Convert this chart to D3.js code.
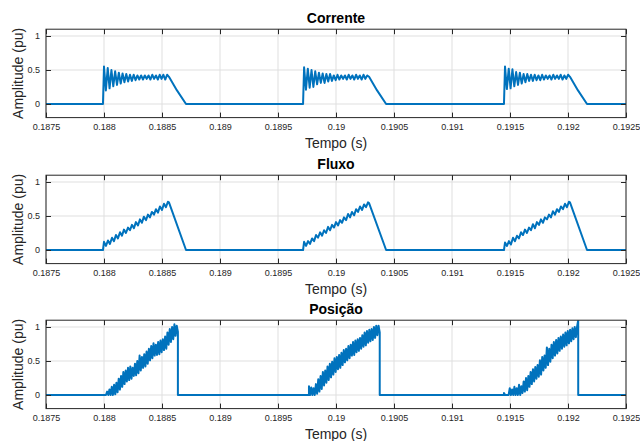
<!DOCTYPE html>
<html>
<head>
<meta charset="utf-8">
<script src="https://cdn.jsdelivr.net/npm/d3@7"></script>
<style>
  html, body { margin: 0; padding: 0; background: #ffffff; }
  svg { display: block; font-family: "Liberation Sans", Arial, Helvetica, sans-serif; }
</style>
</head>
<body>
<svg id="chart" width="640" height="441"></svg>
<script>
// ---------------- data ----------------
const titles = ["Corrente", "Fluxo", "Posição"];
const xLabel = "Tempo (s)";
const yLabel = "Amplitude (pu)";
const xDomain = [0.1875, 0.1925];
const yDomain = [-0.2, 1.1];
const xTicks = [0.1875, 0.188, 0.1885, 0.189, 0.1895, 0.19, 0.1905, 0.191, 0.1915, 0.192, 0.1925];
const xTickLabels = ["0.1875", "0.188", "0.1885", "0.189", "0.1895", "0.19", "0.1905", "0.191", "0.1915", "0.192", "0.1925"];
const yTicks = [0, 0.5, 1];
const yTickLabels = ["0", "0.5", "1"];

// pulse onset times (s) for Corrente and Fluxo
const pulseOnsets = [0.187991, 0.189716, 0.191448];

// Corrente: times relative to onset (microseconds) and values (pu)
const correnteRelUs = [0, 9, 25, 41, 57, 73, 89, 105, 121, 137, 153, 169, 185, 201, 217,
  233, 249, 265, 281, 297, 313, 329, 345, 361, 377, 393, 409, 425, 441, 457,
  473, 489, 505, 521, 537, 553, 569, 638, 716];
const corrente1 = [0, 0.55, 0.20, 0.53, 0.23, 0.50, 0.26, 0.48, 0.28, 0.46, 0.30, 0.45, 0.32, 0.44, 0.33,
  0.43, 0.34, 0.43, 0.35, 0.42, 0.36, 0.42, 0.36, 0.42, 0.37, 0.42, 0.36, 0.43, 0.37, 0.42,
  0.36, 0.43, 0.37, 0.43, 0.36, 0.43, 0.40, 0.20, 0];
const corrente2 = [0, 0.54, 0.21, 0.52, 0.24, 0.50, 0.25, 0.48, 0.29, 0.46, 0.31, 0.45, 0.31, 0.44, 0.33,
  0.44, 0.34, 0.42, 0.35, 0.43, 0.36, 0.42, 0.37, 0.42, 0.36, 0.43, 0.37, 0.42, 0.36, 0.43,
  0.37, 0.42, 0.36, 0.43, 0.37, 0.42, 0.40, 0.20, 0];
const corrente3 = [0, 0.55, 0.22, 0.52, 0.23, 0.51, 0.26, 0.47, 0.28, 0.46, 0.30, 0.44, 0.32, 0.44, 0.34,
  0.43, 0.34, 0.43, 0.35, 0.42, 0.35, 0.43, 0.36, 0.42, 0.37, 0.42, 0.36, 0.43, 0.37, 0.42,
  0.37, 0.43, 0.36, 0.42, 0.37, 0.43, 0.40, 0.20, 0];

// Fluxo
const fluxoRelUs = [0, 9, 26, 43, 60, 78, 95, 112, 129, 147, 164, 181, 198, 216, 233,
  250, 267, 284, 302, 319, 336, 353, 371, 388, 405, 422, 440, 457, 474, 491,
  509, 526, 543, 560, 569, 716];
const fluxo1 = [0, 0.12, 0.06, 0.14, 0.09, 0.18, 0.13, 0.22, 0.17, 0.26, 0.21, 0.30, 0.25, 0.33, 0.29,
  0.37, 0.32, 0.41, 0.36, 0.45, 0.40, 0.49, 0.44, 0.52, 0.48, 0.56, 0.52, 0.60, 0.55, 0.64,
  0.59, 0.68, 0.63, 0.71, 0.70, 0];
const fluxo2 = [0, 0.12, 0.06, 0.13, 0.09, 0.17, 0.13, 0.22, 0.18, 0.26, 0.21, 0.29, 0.25, 0.34, 0.29,
  0.37, 0.33, 0.41, 0.36, 0.44, 0.40, 0.48, 0.44, 0.53, 0.48, 0.56, 0.51, 0.60, 0.56, 0.64,
  0.59, 0.67, 0.63, 0.70, 0.69, 0];
const fluxo3 = [0, 0.11, 0.06, 0.13, 0.08, 0.18, 0.13, 0.21, 0.17, 0.26, 0.22, 0.30, 0.25, 0.33, 0.29,
  0.38, 0.32, 0.41, 0.37, 0.45, 0.40, 0.48, 0.45, 0.52, 0.48, 0.57, 0.52, 0.60, 0.56, 0.64,
  0.60, 0.68, 0.63, 0.71, 0.70, 0];

// Posição: onset times (s), sample times relative to onset (microseconds), values
const posicaoOnsets = [0.188017, 0.189767, 0.191448];
const posicaoRelUs = [0, 10, 20, 30, 40, 50, 60, 70, 80, 90, 100, 110, 120, 130, 140,
  150, 160, 170, 180, 190, 200, 210, 220, 230, 240, 250, 260, 270, 280, 290,
  300, 310, 320, 330, 340, 350, 360, 370, 380, 390, 400, 410, 420, 430, 440,
  450, 460, 470, 480, 490, 500, 510, 520, 530, 540, 550, 560, 570, 580, 590,
  600, 610, 620, 630, 640];
const posicao1 = [0, 0.05, 0, 0.08, 0, 0.12, 0, 0.15, 0.01, 0.18,
  0.04, 0.24, 0.08, 0.28, 0.12, 0.34, 0.16, 0.36, 0.20, 0.40,
  0.22, 0.42, 0.24, 0.40, 0.28, 0.46, 0.29, 0.50, 0.32, 0.58,
  0.36, 0.56, 0.40, 0.60, 0.42, 0.64, 0.46, 0.68, 0.51, 0.72,
  0.54, 0.76, 0.58, 0.74, 0.59, 0.78, 0.60, 0.80, 0.63, 0.82,
  0.66, 0.86, 0.68, 0.92, 0.74, 0.97, 0.78, 1.00, 0.82, 1.04,
  0.87, 1.02, 0.93];
const posicao2 = [0.13, 0, 0.11, 0, 0.10, 0,
  0.16, 0.02, 0.23, 0.05, 0.28,
  0.09, 0.34, 0.14, 0.36, 0.18, 0.42, 0.22, 0.46,
  0.26, 0.49, 0.30, 0.54, 0.34, 0.56, 0.38, 0.59,
  0.40, 0.62, 0.44, 0.66, 0.48, 0.68, 0.51, 0.72, 0.54,
  0.74, 0.58, 0.78, 0.59, 0.80, 0.63, 0.82, 0.65, 0.84,
  0.68, 0.88, 0.71, 0.92, 0.73, 0.94, 0.77, 0.96, 0.79,
  0.97, 0.81, 1.00, 0.84, 1.02, 0.88, 1.02, 0.92];
const posicao3 = [0.03, 0, 0, 0, 0,
  0.10, 0, 0.08, 0,
  0.12, 0, 0.10, 0, 0.15, 0, 0.13,
  0.03, 0.20, 0.05, 0.25, 0.07, 0.28,
  0.12, 0.34, 0.16, 0.38, 0.20, 0.41,
  0.24, 0.44, 0.27, 0.51, 0.30, 0.56, 0.36,
  0.58, 0.40, 0.70, 0.44, 0.68, 0.49, 0.74,
  0.54, 0.78, 0.58, 0.81, 0.61, 0.84, 0.65, 0.86,
  0.68, 0.89, 0.71, 0.92, 0.73, 0.94, 0.76,
  0.96, 0.79, 0.98, 0.82, 1.00, 0.85, 1.00, 1.10];

// ---------------- build series ----------------
function buildPulsed(onsets, relUs, pulses, stepEdges) {
  const pts = [[xDomain[0], 0]];
  onsets.forEach((t0, i) => {
    const vals = pulses[i];
    if (stepEdges) pts.push([t0 - 1e-7, 0]);
    vals.forEach((v, k) => pts.push([t0 + relUs[k] * 1e-6, v]));
    if (stepEdges) {
      const tLast = t0 + relUs[vals.length - 1] * 1e-6;
      pts.push([tLast + 1e-7, 0]);
    }
  });
  pts.push([xDomain[1], 0]);
  return pts;
}
const series = [
  buildPulsed(pulseOnsets, correnteRelUs, [corrente1, corrente2, corrente3], false),
  buildPulsed(pulseOnsets, fluxoRelUs, [fluxo1, fluxo2, fluxo3], false),
  buildPulsed(posicaoOnsets, posicaoRelUs, [posicao1, posicao2, posicao3], true)
];

// ---------------- layout ----------------
const left = 46, right = 626;
const tops = [29.2, 175.2, 320.2];
const plotH = 88.4;
const axisColor = "#262626";
const gridColor = "#dfdfdf";
const lineColor = "#0072BD";

const svg = d3.select("#chart");
const x = d3.scaleLinear().domain(xDomain).range([left, right]);
const y = d3.scaleLinear().domain(yDomain).range([plotH, 0]);

tops.forEach((top, i) => {
  const g = svg.append("g").attr("transform", `translate(0,${top})`);

  g.append("defs").append("clipPath").attr("id", "clip" + i)
    .append("rect").attr("x", left).attr("y", 0).attr("width", right - left).attr("height", plotH);

  // grid
  g.append("g").selectAll("line").data(xTicks).join("line")
    .attr("x1", d => x(d)).attr("x2", d => x(d)).attr("y1", 0).attr("y2", plotH)
    .attr("stroke", gridColor).attr("stroke-width", 1);
  g.append("g").selectAll("line").data(yTicks).join("line")
    .attr("x1", left).attr("x2", right).attr("y1", d => y(d)).attr("y2", d => y(d))
    .attr("stroke", gridColor).attr("stroke-width", 1);

  // data line
  const line = d3.line().x(d => x(d[0])).y(d => y(d[1]));
  g.append("path").datum(series[i])
    .attr("clip-path", `url(#clip${i})`)
    .attr("d", line).attr("fill", "none")
    .attr("stroke", lineColor).attr("stroke-width", 2)
    .attr("stroke-linejoin", "round");

  // axes (ticks inward)
  const xb = d3.axisBottom(x).tickValues(xTicks).tickFormat((d, k) => xTickLabels[k])
    .tickSize(-5).tickPadding(6);
  const xt = d3.axisTop(x).tickValues(xTicks).tickFormat("").tickSize(-5);
  const yl = d3.axisLeft(y).tickValues(yTicks).tickFormat((d, k) => yTickLabels[k])
    .tickSize(-5).tickPadding(6);
  const yr = d3.axisRight(y).tickValues(yTicks).tickFormat("").tickSize(-5);

  const styleAxis = sel => {
    sel.select(".domain").remove();
    sel.selectAll(".tick line").attr("stroke", axisColor).attr("stroke-width", 1);
    sel.selectAll(".tick text").attr("fill", axisColor)
      .style("font-family", '"Liberation Sans", Arial, sans-serif').style("font-size", "9px");
  };
  g.append("g").attr("transform", `translate(0,${plotH})`).call(xb).call(styleAxis);
  g.append("g").call(xt).call(styleAxis);
  g.append("g").attr("transform", `translate(${left},0)`).call(yl).call(styleAxis);
  g.append("g").attr("transform", `translate(${right},0)`).call(yr).call(styleAxis);

  // box
  g.append("rect").attr("x", left).attr("y", 0).attr("width", right - left).attr("height", plotH)
    .attr("fill", "none").attr("stroke", axisColor).attr("stroke-width", 1);

  // title
  g.append("text").attr("x", (left + right) / 2).attr("y", -6)
    .attr("text-anchor", "middle").attr("font-weight", "bold").attr("font-size", 14)
    .attr("fill", "#000").text(titles[i]);

  // x label
  g.append("text").attr("x", (left + right) / 2).attr("y", plotH + 30)
    .attr("text-anchor", "middle").attr("font-size", 14).attr("fill", axisColor).text(xLabel);

  // y label
  g.append("text").attr("transform", `translate(23,${plotH / 2}) rotate(-90)`)
    .attr("text-anchor", "middle").attr("font-size", 14).attr("fill", axisColor).text(yLabel);
});
</script>
</body>
</html>
